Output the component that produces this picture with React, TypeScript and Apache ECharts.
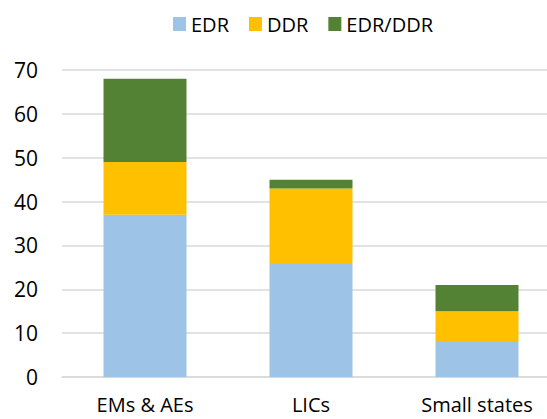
import React, { useEffect, useRef } from "react";
import * as echarts from "echarts";

const categories = ["EMs & AEs", "LICs", "Small states"];
const seriesNames = ["EDR", "DDR", "EDR/DDR"];
const edrValues = [37, 26, 8];
const ddrValues = [12, 17, 7];
const edrDdrValues = [19, 2, 6];
const colors = ["#9DC3E6", "#FFC000", "#548235"];

const FONT = "Open Sans";

export default function App() {
  const ref = useRef<HTMLDivElement>(null);
  useEffect(() => {
    if (!ref.current) return;
    const chart = echarts.init(ref.current, undefined, { renderer: "svg" });
    const data = [edrValues, ddrValues, edrDdrValues];
    chart.setOption({
      animation: false,
      legend: {
        top: 14,
        left: 173,
        padding: 0,
        itemWidth: 13,
        itemHeight: 14,
        itemGap: 20,
        icon: "rect",
        textStyle: { fontFamily: FONT, fontSize: 20, color: "#000" },
        data: seriesNames,
      },
      grid: { left: 62, top: 70, width: 498, height: 307, outerBoundsMode: "none" },
      xAxis: {
        type: "category",
        data: categories,
        axisLine: { lineStyle: { color: "#D9D9D9", width: 1.5 } },
        axisTick: { show: false },
        axisLabel: { fontFamily: FONT, fontSize: 20, color: "#000", margin: 17, lineHeight: 20 },
      },
      yAxis: {
        type: "value",
        min: 0,
        max: 70,
        interval: 10,
        axisLine: { show: false },
        axisTick: { show: false },
        splitLine: { lineStyle: { color: "#D9D9D9", width: 1.5 } },
        axisLabel: { fontFamily: FONT, fontSize: 21, color: "#000", margin: 24 },
      },
      series: seriesNames.map((name, i) => ({
        name,
        type: "bar",
        stack: "total",
        barWidth: 83,
        data: data[i],
        itemStyle: { color: colors[i] },
      })),
    });
    return () => chart.dispose();
  }, []);
  return <div ref={ref} style={{ width: 547, height: 419, position: "absolute", left: 0, top: 0 }} />;
}
